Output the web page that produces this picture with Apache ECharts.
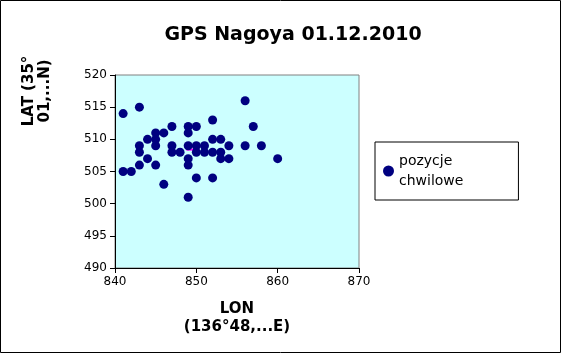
<!DOCTYPE html>
<html>
<head>
<meta charset="utf-8">
<script src="https://cdn.jsdelivr.net/npm/echarts@6/dist/echarts.min.js"></script>
<style>
  html, body { margin: 0; padding: 0; background: #fff; }
  #chart { width: 561px; height: 353px; }
</style>
</head>
<body>
<div id="chart"></div>
<script>
// LON (x) / LAT (y) readings, one pair per fix
const lonValues = [
  841, 843, 856, 847, 849, 850, 857, 852,
  845, 846, 849,
  844, 845, 852, 853,
  843, 845, 847, 849, 850, 851, 854, 856, 858,
  843, 847, 848, 850, 851, 852, 853,
  844, 849, 853, 854, 860,
  843, 845, 849,
  841, 842,
  850, 852,
  846,
  849
];
const latValues = [
  514, 515, 516, 512, 512, 512, 512, 513,
  511, 511, 511,
  510, 510, 510, 510,
  509, 509, 509, 509, 509, 509, 509, 509, 509,
  508, 508, 508, 508, 508, 508, 508,
  507, 507, 507, 507, 507,
  506, 506, 506,
  505, 505,
  504, 504,
  503,
  501
];
const meanPoint = [849.2, 508.4];
const seriesName = 'pozycje\nchwilowe';
const xTicks = [840, 870, 10];
const yTicks = [490, 520, 5];

const points = lonValues.map((x, i) => [x, latValues[i]]);

const chart = echarts.init(document.getElementById('chart'));
const font = 'DejaVu Sans';

chart.setOption({
  animation: false,
  backgroundColor: '#fff',
  textStyle: { fontFamily: font },
  title: {
    text: 'GPS Nagoya 01.12.2010',
    left: 288,
    top: 21,
    textAlign: 'center',
    textStyle: { fontFamily: font, fontSize: 19, fontWeight: 'bold', color: '#000' }
  },
  grid: {
    left: 115, top: 75, right: 202, bottom: 85,
    show: true,
    backgroundColor: '#ccffff',
    borderColor: '#808080',
    borderWidth: 1
  },
  legend: {
    data: [seriesName],
    left: 375,
    top: 142,
    orient: 'vertical',
    padding: [9, 55, 9, 8],
    borderColor: '#000',
    borderWidth: 1,
    itemWidth: 11,
    itemHeight: 11,
    itemGap: 0,
    icon: 'circle',
    itemStyle: { opacity: 1 },
    textStyle: { fontFamily: font, fontSize: 14, color: '#000', lineHeight: 20 }
  },
  xAxis: {
    type: 'value',
    min: xTicks[0],
    max: xTicks[1],
    interval: xTicks[2],
    name: 'LON\n(136°48,...E)',
    nameLocation: 'middle',
    nameGap: 32,
    nameTextStyle: { fontFamily: font, fontSize: 15, fontWeight: 'bold', color: '#000', lineHeight: 18 },
    axisLine: { onZero: false, lineStyle: { color: '#000' } },
    axisTick: { length: 5, lineStyle: { color: '#000' } },
    axisLabel: { color: '#000', fontSize: 12, margin: 8 },
    splitLine: { show: false }
  },
  yAxis: {
    type: 'value',
    min: yTicks[0],
    max: yTicks[1],
    interval: yTicks[2],
    axisLine: { show: true, onZero: false, lineStyle: { color: '#000' } },
    axisTick: { show: true, length: 5, lineStyle: { color: '#000' } },
    axisLabel: { color: '#000', fontSize: 12, margin: 8 },
    splitLine: { show: false }
  },
  graphic: [
    {
      type: 'rect',
      shape: { x: 0.5, y: 0.5, width: 560, height: 352 },
      style: { fill: 'none', stroke: '#000', lineWidth: 1 },
      z: 100
    },
    {
      type: 'text',
      x: 37,
      y: 91,
      rotation: Math.PI / 2,
      style: {
        text: 'LAT (35°\n01,...N)',
        font: 'bold 15px ' + font,
        fill: '#000',
        align: 'center',
        verticalAlign: 'middle',
        lineHeight: 16
      }
    }
  ],
  series: [
    {
      name: seriesName,
      type: 'scatter',
      data: points,
      symbol: 'circle',
      symbolSize: 9,
      itemStyle: { color: '#000080', opacity: 1 },
      z: 3
    },
    {
      name: 'średnia',
      type: 'scatter',
      data: [meanPoint],
      symbol: 'rect',
      symbolSize: [7, 2],
      itemStyle: { color: '#ff00ff', opacity: 1 },
      z: 2
    }
  ]
});
</script>
</body>
</html>
